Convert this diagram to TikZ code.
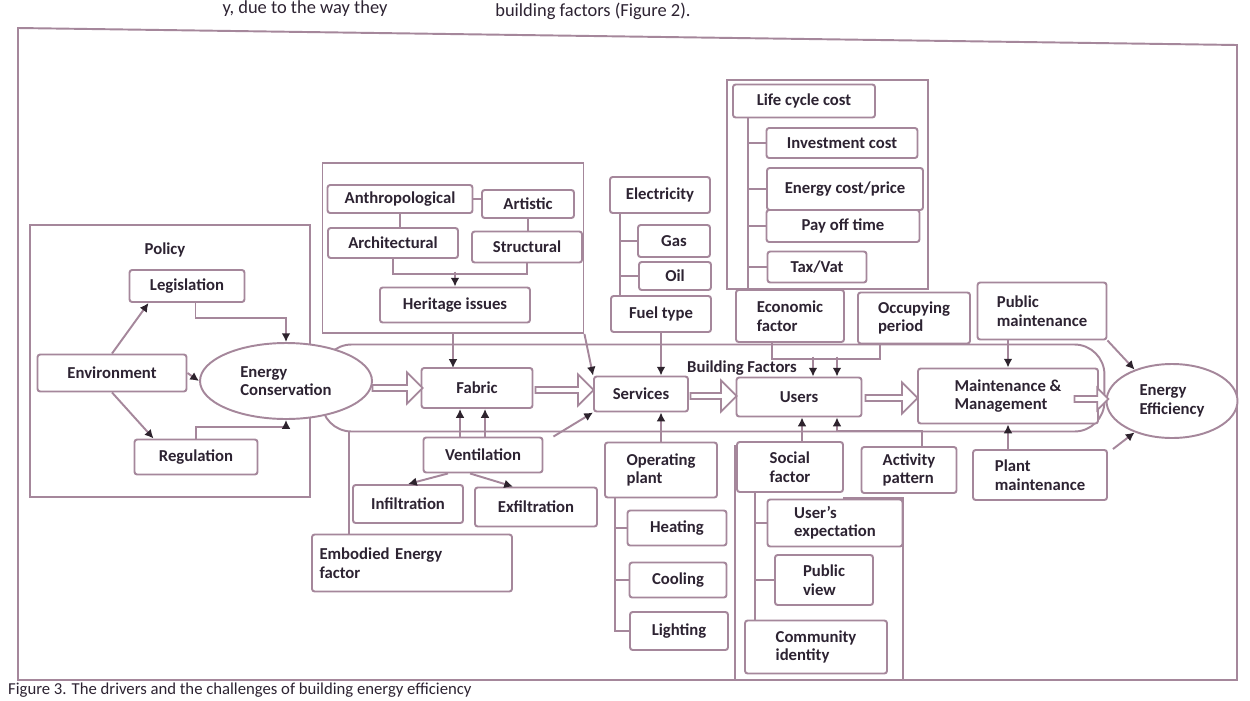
\documentclass[tikz,border=0pt]{standalone}
\usepackage{fontspec}
\setmainfont{Carlito}
\usetikzlibrary{arrows.meta, positioning, shapes.geometric, shapes.arrows}

\definecolor{linec}{RGB}{165,135,155}
\definecolor{txtc}{RGB}{45,35,50}
\definecolor{tipc}{RGB}{45,35,45}

\tikzset{
    box/.style={draw=linec, line width=1.1pt, fill=white, rounded corners=1.5pt, text=txtc, inner sep=1pt, align=left},
    grp/.style={draw=linec, line width=1.1pt},
    conn/.style={draw=linec, line width=1.1pt},
    arr/.style={conn, -{Latex[length=5pt, width=5pt, color=tipc]}},
    blk/.style={single arrow, draw=linec, line width=1pt, fill=white, minimum width=0.62cm, single arrow head extend=0.07cm, inner sep=0pt},
    oval/.style={ellipse, draw=linec, line width=1.1pt, fill=white, text=txtc, align=left, inner sep=0pt}
}

\begin{document}
\begin{tikzpicture}[x=0.02cm, y=-0.02cm, font=\fontsize{9.5}{10.5}\selectfont\bfseries]
    \useasboundingbox (0,0) rectangle (1250,700);
    \clip (0,0) rectangle (1250,700);
    \fill[white] (0,0) rectangle (1250,700);

    % page text round the figure
    \node[font=\fontsize{10.5}{12}\selectfont, text=txtc] (txta) at (305,9) {y, due to the way they};
    \node[font=\fontsize{10.5}{12}\selectfont, text=txtc] (txtb) at (593,11) {building factors (Figure 2).};
    \node[font=\fontsize{9.5}{11}\selectfont, text=txtc, anchor=west] (capt) at (2,690) {Figure 3. The drivers and the challenges of building energy efficiency};
    \draw[grp] (18,28) -- (1237,45) -- (1237,680) -- (18,680) -- cycle;

    % building factors band
    \node[draw=linec, line width=1.1pt, rounded corners=0.6cm, minimum width=15.66cm, minimum height=1.74cm] (bf) at (713,388) {};
    \node[text=txtc] (bflab) at (742,368) {Building Factors};

    % policy
    \node[grp, minimum width=5.6cm, minimum height=5.44cm] (polgrp) at (170,361) {};
    \node[text=txtc] (pol) at (165,250) {Policy};
    \node[box, minimum width=2.3cm, minimum height=0.64cm] (legis) at (187,286) {Legislation};
    \node[box, minimum width=2.98cm, minimum height=0.74cm] (env) at (112,373) {Environment};
    \node[box, minimum width=2.46cm, minimum height=0.7cm] (reg) at (196,457) {Regulation};
    \node[oval, minimum width=3.44cm, minimum height=1.52cm] (encon) at (286,381) {Energy\\Conservation};

    \draw[arr] (env.north) -- ([xshift=0.4cm]legis.south west);
    \draw[arr] (env.south) -- ([xshift=0.4cm]reg.north west);
    \draw[arr] (env.east) -- (encon.west);
    \draw[arr] ([xshift=-1cm]legis.south east) -- ++(0,15) -| (encon.north);
    \draw[arr] (reg.north) -- ++(0,-12) -| (encon.south);

    % heritage
    \node[grp, minimum width=5.22cm, minimum height=3.4cm] (herigrp) at (453,248) {};
    \node[box, minimum width=2.9cm, minimum height=0.56cm] (anthro) at (400,199) {Anthropological};
    \node[box, minimum width=1.84cm, minimum height=0.56cm] (artis) at (528,204) {Artistic};
    \node[box, minimum width=2.6cm, minimum height=0.6cm] (archi) at (393,243) {Architectural};
    \node[box, minimum width=2.2cm, minimum height=0.62cm] (struct) at (527,247) {Structural};
    \node[box, minimum width=3cm, minimum height=0.7cm] (heri) at (455,305) {Heritage issues};

    \draw[conn] (anthro.south) -- (anthro.south |- archi.north);
    \draw[conn] (anthro.east) -- (anthro.east -| artis.west);
    \draw[conn] (artis.south) -- (artis.south |- struct.north);
    \draw[conn] (archi.south) -- ++(0,15) -| (struct.south);
    \draw[arr] ([yshift=0.3cm]heri.north) -- (heri.north);
    \draw[arr] (herigrp.south) -- (herigrp.south |- 0,368);

    % main chain
    \node[box, minimum width=2.22cm, minimum height=0.8cm] (fabric) at (477,388) {Fabric};
    \node[box, minimum width=1.88cm, minimum height=0.7cm] (services) at (641,394) {Services};
    \node[box, minimum width=2.5cm, minimum height=0.78cm] (users) at (799,397) {Users};
    \node[box, minimum width=3.6cm, minimum height=1.1cm] (maint) at (1008,396) {Maintenance \&\\Management};
    \node[oval, minimum width=2.62cm, minimum height=1.48cm] (ee) at (1172,401) {Energy\\Efficiency};

    \node[blk, minimum height=1.0cm] (b1) at (396,388) {};
    \node[blk, minimum height=1.16cm] (b2) at (563,390) {};
    \node[blk, minimum height=0.92cm] (b3) at (712,396) {};
    \node[blk, minimum height=1.04cm] (b4) at (890,398) {};
    \node[blk, minimum height=0.68cm, minimum width=0.45cm, single arrow head extend=0.05cm] (b5) at (1090,399) {};

    \draw[arr] (herigrp.south east) -- (services.north west);

    % fabric factors
    \node[box, minimum width=2.38cm, minimum height=0.7cm] (vent) at (483,455) {Ventilation};
    \node[box, minimum width=2.2cm, minimum height=0.76cm] (infil) at (408,504) {Infiltration};
    \node[box, minimum width=2.44cm, minimum height=0.78cm] (exfil) at (536,507) {Exfiltration};
    \node[box, minimum width=4cm, minimum height=1.14cm, text width=3.7cm] (embod) at (412,563) {Embodied Energy\\factor};

    \draw[arr] ([xshift=-0.46cm]vent.north) -- ([xshift=-0.46cm]vent.north |- fabric.south);
    \draw[arr] ([xshift=0.04cm]vent.north) -- ([xshift=0.04cm]vent.north |- fabric.south);
    \draw[arr] ([xshift=-0.7cm]vent.south) -- (infil.north);
    \draw[arr] ([xshift=-0.26cm]vent.south) -- ([xshift=-0.46cm]exfil.north);
    \draw[arr] ([xshift=0.2cm]vent.north east) -- (services.south west);
    \draw[conn] ([xshift=0.76cm]embod.north west) -- ([xshift=0.76cm]embod.north west |- bf.south);

    % services factors
    \coordinate (svbr) at (620,0);
    \node[box, minimum width=2cm, minimum height=0.72cm] (elec) at (660,195) {Electricity};
    \node[box, minimum width=1.44cm, minimum height=0.64cm] (gas) at (674,241) {Gas};
    \node[box, minimum width=1.44cm, minimum height=0.56cm] (oil) at (675,276) {Oil};
    \node[box, minimum width=2cm, minimum height=0.72cm] (fuel) at (661,314) {Fuel type};
    \draw[conn] (elec.south -| svbr) -- (fuel.north -| svbr);
    \draw[conn] (gas.west) -- (gas.west -| svbr);
    \draw[conn] (oil.west) -- (oil.west -| svbr);
    \draw[arr] (fuel.south) -- (fuel.south |- services.north);

    \coordinate (opbr) at (615,0);
    \node[box, minimum width=2.24cm, minimum height=1.1cm] (oper) at (661,470) {Operating\\plant};
    \node[box, minimum width=1.98cm, minimum height=0.7cm] (heat) at (677,528) {Heating};
    \node[box, minimum width=1.94cm, minimum height=0.7cm] (cool) at (678,580) {Cooling};
    \node[box, minimum width=1.96cm, minimum height=0.76cm] (light) at (679,631) {Lighting};
    \draw[conn] (oper.south -| opbr) |- (light.west);
    \draw[conn] (heat.west) -- (heat.west -| opbr);
    \draw[conn] (cool.west) -- (cool.west -| opbr);
    \draw[arr] (oper.north) -- (oper.north |- services.south);

    % life cycle cost
    \coordinate (lcbr) at (748,0);
    \draw[grp] (727,80) rectangle (928,289);
    \node[box, minimum width=2.84cm, minimum height=0.66cm] (lcc) at (804,101) {Life cycle cost};
    \node[box, minimum width=3.02cm, minimum height=0.6cm] (invc) at (842,143) {Investment cost};
    \node[box, minimum width=3.12cm, minimum height=0.84cm] (enc) at (845,189) {Energy cost/price};
    \node[box, minimum width=3.06cm, minimum height=0.64cm] (payo) at (843,226) {Pay off time};
    \node[box, minimum width=1.98cm, minimum height=0.62cm] (tax) at (817,267) {Tax/Vat};
    \draw[conn] (lcc.south -| lcbr) -- (lcbr |- 0,289);
    \draw[conn] (invc.west) -- (invc.west -| lcbr);
    \draw[conn] (enc.west) -- (enc.west -| lcbr);
    \draw[conn] (payo.west) -- (payo.west -| lcbr);
    \draw[conn] (tax.west) -- (tax.west -| lcbr);

    % users factors
    \node[box, minimum width=2.16cm, minimum height=1.04cm] (econ) at (790,316) {Economic\\factor};
    \node[box, minimum width=2.24cm, minimum height=1.02cm] (occup) at (914,318) {Occupying\\period};
    \draw[conn] ([xshift=-0.36cm]econ.south) -- ++(0,16) -| ([xshift=-0.68cm]occup.south);
    \draw[arr] ([xshift=0.28cm, yshift=0.4cm]users.north) -- ([xshift=0.28cm]users.north);
    \draw[arr] ([xshift=0.76cm, yshift=0.4cm]users.north) -- ([xshift=0.76cm]users.north);

    \coordinate (scbr) at (755,0);
    \draw[grp] (843,498) -- (903,498) -- (903,680) -- (735,680) -- (735,445);
    \node[box, minimum width=2.12cm, minimum height=1.0cm] (social) at (790,467) {Social\\factor};
    \node[box, minimum width=2.7cm, minimum height=0.94cm] (uexp) at (835,523) {User's\\expectation};
    \node[box, minimum width=1.96cm, minimum height=1.0cm] (pview) at (824,580) {Public\\view};
    \node[box, minimum width=2.84cm, minimum height=1.06cm] (comm) at (816,647) {Community\\identity};
    \draw[conn] (social.south -| scbr) -- (comm.north -| scbr);
    \draw[conn] (uexp.west) -- (uexp.west -| scbr);
    \draw[conn] (pview.west) -- (pview.west -| scbr);
    \draw[arr] ([xshift=0.24cm]social.north) -- ([xshift=0.06cm]users.south);

    \node[box, minimum width=1.9cm, minimum height=0.92cm] (actp) at (909,470) {Activity\\pattern};
    \draw[arr] ([xshift=0.26cm]actp.north) -- ++(0,-15) -| ([xshift=0.76cm]users.south);

    % maintenance
    \node[box, minimum width=2.58cm, minimum height=1.14cm] (pubm) at (1042,311) {Public\\maintenance};
    \node[box, minimum width=2.68cm, minimum height=1.0cm] (plantm) at (1040,475) {Plant\\maintenance};
    \draw[arr] (maint.north |- pubm.south) -- (maint.north);
    \draw[arr] (maint.south |- plantm.north) -- (maint.south);
    \draw[arr] (pubm.south east) -- (ee.140);
    \draw[arr] ([xshift=0.1cm]plantm.north east) -- (ee.220);
\end{tikzpicture}
\end{document}
